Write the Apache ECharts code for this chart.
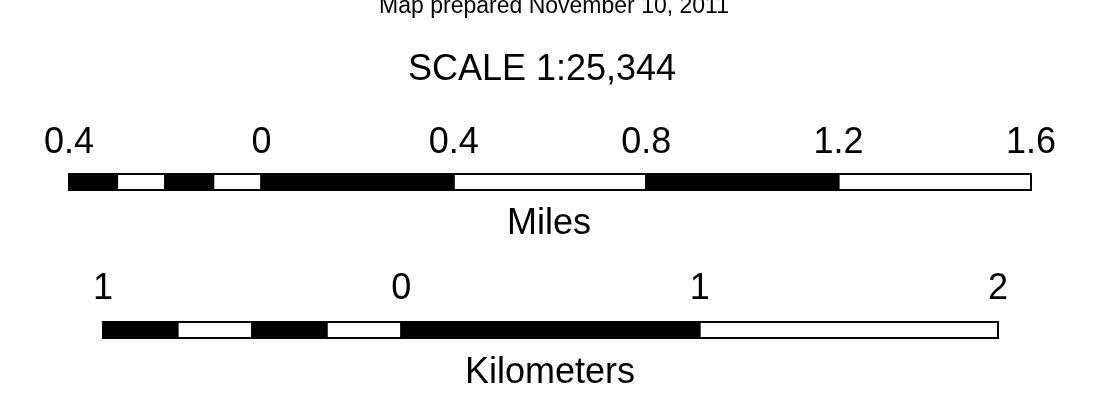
<!DOCTYPE html>
<html>
<head>
<meta charset="utf-8">
<script src="https://cdn.jsdelivr.net/npm/echarts@6/dist/echarts.min.js"></script>
<style>html,body{margin:0;padding:0;background:#fff}#c{width:1106px;height:415px}</style>
</head>
<body>
<div id="c"></div>
<script>
const preparedText = 'Map prepared November 10, 2011';
const scaleText = 'SCALE 1:25,344';
const milesUnit = 'Miles';
const kmUnit = 'Kilometers';
const milesTicks = [-0.4, 0, 0.4, 0.8, 1.2, 1.6];
const milesBreaks = [-0.4, -0.3, -0.2, -0.1, 0, 0.4, 0.8, 1.2, 1.6];
const kmTicks = [-1, 0, 1, 2];
const kmBreaks = [-1, -0.75, -0.5, -0.25, 0, 1, 2];
const segColors = ['#000000', '#ffffff'];

function segments(breaks) {
  const out = [];
  for (let i = 0; i < breaks.length - 1; i++) out.push([breaks[i], breaks[i + 1], i % 2]);
  return out;
}
function renderSeg(params, api) {
  const s = api.coord([api.value(0), 0]);
  const e = api.coord([api.value(1), 0]);
  const h = api.size([0, 1])[1];
  return {
    type: 'rect',
    shape: { x: s[0], y: s[1] - h / 2 + 1, width: e[0] - s[0], height: h - 2 },
    style: { fill: segColors[api.value(2)], stroke: '#000', lineWidth: 2 }
  };
}
const FONT = '"Liberation Sans", Arial, sans-serif';
function xAx(idx, ticks, interval, margin) {
  return {
    type: 'value', gridIndex: idx, position: 'top',
    min: ticks[0], max: ticks[ticks.length - 1], interval: interval,
    axisLine: { show: false }, axisTick: { show: false }, splitLine: { show: false },
    axisLabel: {
      margin: margin, fontSize: 36, color: '#000', fontFamily: FONT,
      formatter: v => String(Math.abs(+(+v).toFixed(2)))
    }
  };
}
const chart = echarts.init(document.getElementById('c'), null, { renderer: 'canvas' });
chart.setOption({
  animation: false,
  backgroundColor: '#fff',
  grid: [
    { left: 69, right: 75, top: 173, height: 18 },
    { left: 103, right: 108, top: 321, height: 18 }
  ],
  xAxis: [xAx(0, milesTicks, 0.4, 12), xAx(1, kmTicks, 1, 14)],
  yAxis: [
    { type: 'category', gridIndex: 0, data: [milesUnit], show: false },
    { type: 'category', gridIndex: 1, data: [kmUnit], show: false }
  ],
  graphic: [
    { type: 'text', x: 554, y: -5, style: { text: preparedText, textAlign: 'center', textVerticalAlign: 'top', font: '23px ' + FONT, fill: '#000' } },
    { type: 'text', x: 542, y: 52, style: { text: scaleText, textAlign: 'center', textVerticalAlign: 'top', font: '36px ' + FONT, fill: '#000' } },
    { type: 'text', x: 549, y: 206, style: { text: milesUnit, textAlign: 'center', textVerticalAlign: 'top', font: '36px ' + FONT, fill: '#000' } },
    { type: 'text', x: 550, y: 355, style: { text: kmUnit, textAlign: 'center', textVerticalAlign: 'top', font: '36px ' + FONT, fill: '#000' } }
  ],
  series: [
    { type: 'custom', xAxisIndex: 0, yAxisIndex: 0, renderItem: renderSeg, encode: { x: [0, 1] }, data: segments(milesBreaks) },
    { type: 'custom', xAxisIndex: 1, yAxisIndex: 1, renderItem: renderSeg, encode: { x: [0, 1] }, data: segments(kmBreaks) }
  ]
});
</script>
</body>
</html>
